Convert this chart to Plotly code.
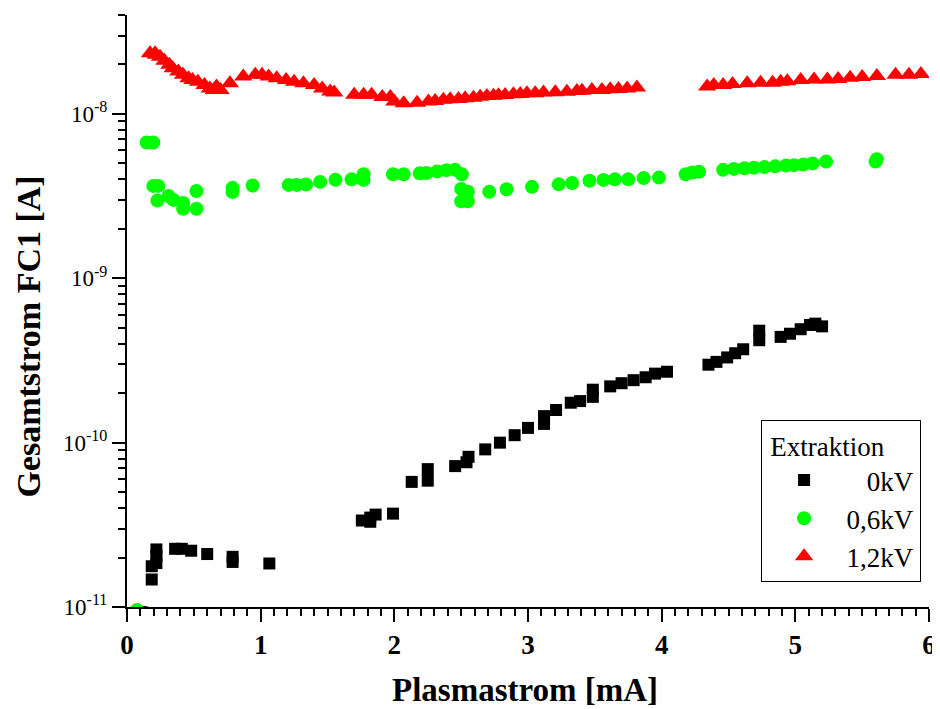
import plotly.graph_objects as go

# ---- data ----
x_0kv = [0.09, 0.11, 0.185, 0.185, 0.22, 0.22, 0.22, 0.36, 0.41, 0.48, 0.60, 0.79, 0.79, 1.065,
         1.757, 1.82, 1.82, 1.86, 1.99, 2.13, 2.25, 2.25, 2.455, 2.54, 2.555, 2.68, 2.79, 2.90,
         3.0, 3.12, 3.12, 3.21, 3.32, 3.39, 3.485, 3.485, 3.615, 3.70, 3.79, 3.88, 3.95, 4.04,
         4.35, 4.41, 4.49, 4.55, 4.61, 4.73, 4.73, 4.89, 4.96, 5.04, 5.11, 5.15, 5.2]
y_0kv = [9.3e-12, 9.3e-12, 1.47e-11, 1.77e-11, 1.85e-11, 2.05e-11, 2.24e-11, 2.26e-11, 2.26e-11,
         2.2e-11, 2.1e-11, 1.88e-11, 2.02e-11, 1.84e-11, 3.36e-11, 3.3e-11, 3.5e-11, 3.65e-11,
         3.7e-11, 5.77e-11, 5.87e-11, 6.9e-11, 7.2e-11, 7.6e-11, 8.2e-11, 9.1e-11, 1.0e-10,
         1.11e-10, 1.23e-10, 1.3e-10, 1.45e-10, 1.58e-10, 1.75e-10, 1.79e-10, 1.9e-10, 2.1e-10,
         2.2e-10, 2.3e-10, 2.4e-10, 2.5e-10, 2.63e-10, 2.7e-10, 2.98e-10, 3.1e-10, 3.3e-10,
         3.5e-10, 3.7e-10, 4.2e-10, 4.8e-10, 4.4e-10, 4.6e-10, 4.9e-10, 5.2e-10, 5.3e-10, 5.1e-10]

x_06kv = [0.075, 0.147, 0.197, 0.197, 0.235, 0.227, 0.31, 0.347, 0.42, 0.42, 0.52, 0.52, 0.79,
          0.79, 0.94, 1.21, 1.27, 1.34, 1.445, 1.56, 1.68, 1.77, 1.77, 1.99, 2.07, 2.19, 2.24,
          2.32, 2.39, 2.455, 2.505, 2.50, 2.55, 2.50, 2.55, 2.71, 2.84, 3.03, 3.23, 3.33, 3.46,
          3.565, 3.65, 3.75, 3.865, 3.98, 4.18, 4.23, 4.28, 4.46, 4.54, 4.62, 4.69, 4.77, 4.85,
          4.93, 4.99, 5.06, 5.13, 5.23, 5.6, 5.61]
y_06kv = [9.6e-12, 6.7e-9, 6.7e-9, 3.65e-9, 3.65e-9, 2.97e-9, 3.17e-9, 3.0e-9, 2.87e-9, 2.65e-9,
          3.4e-9, 2.65e-9, 3.55e-9, 3.35e-9, 3.67e-9, 3.7e-9, 3.7e-9, 3.72e-9, 3.86e-9, 3.98e-9,
          4.0e-9, 4.3e-9, 3.97e-9, 4.3e-9, 4.3e-9, 4.35e-9, 4.37e-9, 4.47e-9, 4.55e-9, 4.57e-9,
          4.3e-9, 3.5e-9, 3.36e-9, 2.94e-9, 2.94e-9, 3.36e-9, 3.48e-9, 3.6e-9, 3.73e-9, 3.8e-9,
          3.92e-9, 3.97e-9, 4.0e-9, 4.0e-9, 4.07e-9, 4.1e-9, 4.3e-9, 4.4e-9, 4.45e-9, 4.57e-9,
          4.63e-9, 4.67e-9, 4.7e-9, 4.75e-9, 4.8e-9, 4.85e-9, 4.88e-9, 4.92e-9, 5.0e-9, 5.13e-9,
          5.13e-9, 5.3e-9]

x_12kv = [0.172, 0.21, 0.217, 0.247, 0.28, 0.317, 0.342, 0.384, 0.419, 0.46, 0.49, 0.53, 0.58,
          0.62, 0.65, 0.67, 0.70, 0.77, 0.87, 0.96, 1.01, 1.06, 1.12, 1.19, 1.25, 1.32, 1.40,
          1.46, 1.52, 1.55, 1.70, 1.77, 1.83, 1.91, 1.97, 2.0, 2.07, 2.17,
          2.255, 2.305, 2.367, 2.418, 2.48, 2.53, 2.592, 2.642, 2.692, 2.742, 2.779, 2.829,
          2.891, 2.942, 2.992, 3.054, 3.116, 3.204, 3.291, 3.366, 3.404, 3.478, 3.553, 3.615,
          3.677, 3.742, 3.815,
          4.34, 4.39, 4.46, 4.53, 4.64, 4.74, 4.83, 4.89, 4.94, 5.04, 5.14, 5.24, 5.32, 5.41,
          5.50, 5.61, 5.75, 5.85, 5.94]
y_12kv = [2.34e-8, 2.34e-8, 2.29e-8, 2.23e-8, 2.11e-8, 1.99e-8, 1.9e-8, 1.81e-8, 1.73e-8,
          1.65e-8, 1.61e-8, 1.57e-8, 1.50e-8, 1.43e-8, 1.40e-8, 1.47e-8, 1.40e-8, 1.54e-8,
          1.69e-8, 1.73e-8, 1.73e-8, 1.69e-8, 1.65e-8, 1.61e-8, 1.57e-8, 1.54e-8, 1.50e-8,
          1.43e-8, 1.37e-8, 1.35e-8, 1.31e-8, 1.31e-8, 1.31e-8, 1.27e-8, 1.27e-8, 1.19e-8,
          1.16e-8, 1.17e-8,
          1.19e-8, 1.20e-8, 1.22e-8, 1.23e-8, 1.234e-8, 1.246e-8, 1.256e-8, 1.274e-8, 1.287e-8,
          1.292e-8, 1.30e-8, 1.305e-8, 1.318e-8, 1.324e-8, 1.337e-8, 1.337e-8, 1.35e-8,
          1.355e-8, 1.366e-8, 1.38e-8, 1.386e-8, 1.40e-8, 1.40e-8, 1.413e-8, 1.42e-8, 1.43e-8,
          1.45e-8,
          1.47e-8, 1.50e-8, 1.50e-8, 1.52e-8, 1.54e-8, 1.55e-8, 1.55e-8, 1.57e-8, 1.58e-8,
          1.61e-8, 1.62e-8, 1.62e-8, 1.63e-8, 1.66e-8, 1.68e-8, 1.70e-8, 1.73e-8, 1.73e-8,
          1.75e-8]

NB = "\u00a0"
series_names = [NB * 3 + "0kV", "0,6kV", "1,2kV"]
legend_title = NB + "Extraktion"
x_title = "Plasmastrom [mA]"
y_title = "Gesamtstrom FC1 [A]"

y_major = [1e-11, 1e-10, 1e-9, 1e-8]
y_major_text = ["10<sup>-11</sup>", "10<sup>-10</sup>", "10<sup>-9</sup>", "10<sup>-8</sup>"]
x_major = [0, 1, 2, 3, 4, 5, 6]
x_major_text = ["<b>%d</b>" % v for v in x_major]

FONT = "Liberation Serif"

y_minor = [m * 10.0 ** e for e in (-11, -10, -9) for m in range(2, 10)] + [2e-8, 3e-8, 4e-8]
x_minor = [i / 10 for i in range(0, 61) if i % 10 != 0]

fig = go.Figure()
fig.add_trace(go.Scatter(x=x_0kv, y=y_0kv, mode="markers", name=series_names[0],
                         marker=dict(symbol="square", size=12, color="#000000")))
fig.add_trace(go.Scatter(x=x_06kv, y=y_06kv, mode="markers", name=series_names[1],
                         marker=dict(symbol="circle", size=14, color="#00ff00")))
fig.add_trace(go.Scatter(x=x_12kv, y=y_12kv, mode="markers", name=series_names[2],
                         marker=dict(symbol="triangle-up", size=16, color="#ff0000")))

axis_common = dict(showline=True, linecolor="black", linewidth=2, ticks="outside",
                   ticklen=13, tickwidth=2, tickcolor="black", showgrid=False, zeroline=False,
                   mirror=False)

fig.update_xaxes(range=[0, 6], tickmode="array", tickvals=x_major, ticktext=x_major_text,
                 tickfont=dict(family=FONT, size=27, color="black"),
                 ticklabeloverflow="allow",
                 minor=dict(ticks="outside", ticklen=7, tickwidth=2, tickcolor="black",
                            tickmode="array", tickvals=x_minor),
                 **axis_common)
fig.update_yaxes(type="log", range=[-11, 0.60206 - 8], tickmode="array", tickvals=y_major,
                 ticktext=y_major_text,
                 tickfont=dict(family=FONT, size=23, color="black"),
                 minor=dict(ticks="outside", ticklen=7, tickwidth=2, tickcolor="black",
                            tickmode="array", tickvals=y_minor),
                 **axis_common)

fig.add_annotation(text=f"<b>{x_title}</b>", xref="paper", yref="paper", x=0.496, y=-0.14,
                   xanchor="center", yanchor="middle", showarrow=False,
                   font=dict(family=FONT, size=33, color="black"))
fig.add_annotation(text=f"<b>{y_title}</b>", xref="paper", yref="paper", x=-0.124, y=0.456,
                   xanchor="center", yanchor="middle", showarrow=False, textangle=-90,
                   font=dict(family=FONT, size=34, color="black"))

fig.update_layout(
    width=940, height=701,
    margin=dict(l=119, r=19, t=7, b=102),
    paper_bgcolor="white", plot_bgcolor="white",
    font=dict(family=FONT, color="black"),
    legend=dict(x=0.790, y=0.316, xanchor="left", yanchor="top",
                bordercolor="black", borderwidth=1, bgcolor="white",
                font=dict(family=FONT, size=27, color="black"),
                title=dict(text=legend_title, font=dict(family=FONT, size=27, color="black")),
                itemwidth=75),
)

fig.write_html("out.html")
